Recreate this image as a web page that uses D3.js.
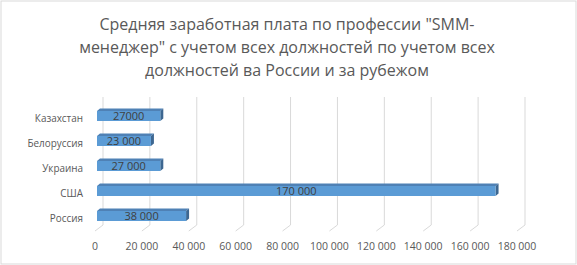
<!DOCTYPE html>
<html><head><meta charset="utf-8">
<script src="https://cdn.jsdelivr.net/npm/d3@7"></script>
<style>body{margin:0;background:#fff}svg{display:block}</style>
</head><body>
<svg id="c" width="577" height="265"></svg>
<script>
const categories = ["Казахстан", "Белоруссия", "Украина", "США", "Россия"];
const values = [27000, 23000, 27000, 170000, 38000];
const valueLabels = ["27000", "23 000", "27 000", "170 000", "38 000"];
const tickValues = [0, 20000, 40000, 60000, 80000, 100000, 120000, 140000, 160000, 180000];
const tickLabels = ["0", "20 000", "40 000", "60 000", "80 000", "100 000", "120 000", "140 000", "160 000", "180 000"];
const titleLines = ["Средняя заработная плата по профессии \"SMM-", "менеджер\" с учетом всех должностей по учетом всех", "должностей ва России и за рубежом"];

const svg = d3.select("#c");
const font = "'Open Sans', sans-serif";
function condense(sel, f) {
  sel.each(function () {
    const w = this.getComputedTextLength();
    d3.select(this).attr("textLength", w * f).attr("lengthAdjust", "spacingAndGlyphs");
  });
}
svg.append("rect").attr("x", 1).attr("y", 1).attr("width", 575).attr("height", 263)
  .attr("fill", "#fff").attr("stroke", "#d9d9d9").attr("stroke-width", 1);

const t = svg.append("g");
titleLines.forEach((l, i) => {
  t.append("text").attr("x", 287).attr("y", 30 + i * 23).attr("text-anchor", "middle")
    .attr("font-family", font).attr("font-size", 16).attr("fill", "#595959").text(l);
});

const x = d3.scaleLinear().domain([0, 180000]).range([97, 519]);
const y = d3.scaleBand().domain(categories).range([103.5, 228.5]).paddingInner(0.6).paddingOuter(0.3);
const bx = 6, floorY = 225, topY = 97, fdx = -8, fdy = 6;

const g = svg.append("g");
tickValues.forEach(v => {
  const xb = x(v) + bx;
  g.append("line").attr("x1", xb).attr("x2", xb).attr("y1", topY).attr("y2", floorY)
    .attr("stroke", "#d9d9d9").attr("stroke-width", 1);
  g.append("line").attr("x1", xb).attr("x2", xb + fdx).attr("y1", floorY).attr("y2", floorY + fdy)
    .attr("stroke", "#d9d9d9").attr("stroke-width", 1);
});

tickValues.forEach((v, i) => {
  svg.append("text").attr("x", x(v) - 2).attr("y", 250).attr("text-anchor", "middle")
    .attr("font-family", font).attr("font-size", 10.5).attr("fill", "#595959").text(tickLabels[i]);
});

const ddx = 3, ddy = -2.5;
const bars = svg.append("g");
const cats = svg.append("g");
categories.forEach((c, i) => {
  const x0 = x(0), x1 = x(values[i]), y0 = y(c), h = y.bandwidth();
  bars.append("path").attr("d", `M${x0},${y0}L${x0+ddx},${y0+ddy}L${x1+ddx},${y0+ddy}L${x1},${y0}Z`).attr("fill", "#4f81b5");
  bars.append("path").attr("d", `M${x1},${y0}L${x1+ddx},${y0+ddy}L${x1+ddx},${y0+h+ddy}L${x1},${y0+h}Z`).attr("fill", "#3d6791");
  bars.append("rect").attr("x", x0).attr("y", y0).attr("width", x1 - x0).attr("height", h).attr("fill", "#5b9bd5");
  svg.append("text").attr("x", (x0 + x1) / 2).attr("y", y0 + h / 2 + 4).attr("text-anchor", "middle")
    .attr("font-family", font).attr("font-size", 11).attr("fill", "#404040").text(valueLabels[i]);
  cats.append("text").attr("x", 83).attr("y", y0 + h / 2 + 6).attr("text-anchor", "end")
    .attr("font-family", font).attr("font-size", 11.5).attr("fill", "#595959").text(c);
});
condense(cats.selectAll("text"), 0.86);
</script>
</body></html>
